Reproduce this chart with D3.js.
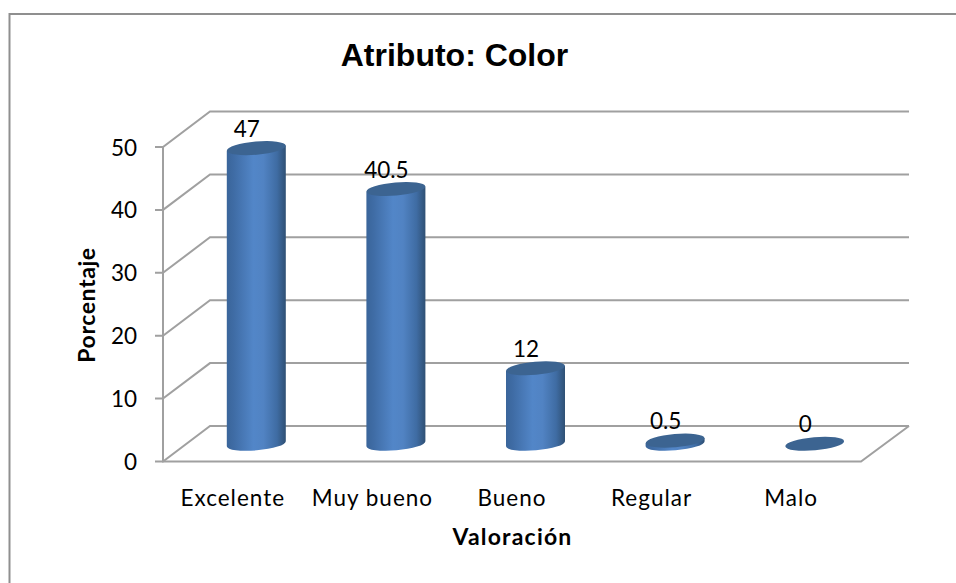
<!DOCTYPE html>
<html><head><meta charset="utf-8">
<script src="https://cdn.jsdelivr.net/npm/d3@7"></script>
<style>html,body{margin:0;padding:0;background:#fff}svg{display:block}</style>
</head><body><div id="chart"></div>
<script>
// Values for the 3D cylinder chart
const categories = ["Excelente", "Muy bueno", "Bueno", "Regular", "Malo"];
const values = [47, 40.5, 12, 0.5, 0];
const valueLabels = ["47", "40.5", "12", "0.5", "0"];
const yTicks = [0, 10, 20, 30, 40, 50];
const chartTitle = "Atributo: Color";
const xTitle = "Valoración";
const yTitle = "Porcentaje";

const W = 956, H = 583;
const svg = d3.select("#chart").append("svg").attr("width", W).attr("height", H);

// Front plane of the plot box, plus the oblique offset to the back wall
const y = d3.scaleLinear().domain([0, 50]).range([461.5, 147]);
const x = d3.scaleBand().domain(categories).range([163, 861]);
const depth = { dx: 47, dy: -35.5 };
const colW = 59;
const rx = colW / 2, ry = 6.6, tilt = -5;
const midY = v => y(v) + depth.dy / 2;
const cx = c => x(c) + x.bandwidth() / 2 + depth.dx / 2;

const FONT = "Lato, 'Open Sans', sans-serif";
const GRID = "#a0a0a0";

// Horizontal cylinder shading
const defs = svg.append("defs");
const grad = defs.append("linearGradient").attr("id", "cyl");
[[0, "#3a659a"], [0.12, "#3f6ca5"], [0.45, "#5286c8"], [0.62, "#5183c3"], [0.85, "#3f6ca3"], [1, "#2f5074"]]
  .forEach(([o, c]) => grad.append("stop").attr("offset", o).attr("stop-color", c));

// Outer frame: only the top and left edges fall inside the view
svg.append("path").attr("d", `M9.5,${H}V14H${W}`).attr("fill", "none")
  .attr("stroke", "#8f8f8f").attr("stroke-width", 2);

// Walls, gridlines and floor
const g = svg.append("g").attr("fill", "none").attr("stroke", GRID).attr("stroke-width", 2);
yTicks.forEach(t => {
  const x0 = x.range()[0], yy = y(t);
  g.append("path").attr("d", `M${x0 - 8},${yy}H${x0}L${x0 + depth.dx},${yy + depth.dy}H${x.range()[1] + depth.dx + 1}`);
});
g.append("path").attr("d", `M${x.range()[0]},${y(50)}V${y(0)}H${x.range()[1]}L${x.range()[1] + depth.dx + 1},${y(0) + depth.dy}`);

// Cylinders
const ell = (sel, c, cyV) => sel.attr("cx", c).attr("cy", cyV).attr("rx", rx).attr("ry", ry)
  .attr("transform", `rotate(${tilt} ${c} ${cyV})`);
const toRad = tilt * Math.PI / 180;

categories.forEach((c, i) => {
  const v = values[i], xc = cx(c), yb = midY(0), yt = midY(v);
  const dy = rx * Math.sin(toRad);
  const col = svg.append("g");
  if (v > 0) {
    col.append("path").attr("fill", "url(#cyl)")
      .attr("d", `M${xc - rx},${yt - dy}L${xc + rx},${yt + dy}L${xc + rx},${yb + dy}` +
        `A${rx},${ry} ${tilt} 0 1 ${xc - rx},${yb - dy}Z`);
  }
  ell(col.append("ellipse"), xc, yt).attr("fill", "#3c6491");
});

// Value labels
svg.append("g").selectAll("text").data(categories).join("text")
  .attr("x", c => cx(c) - 9.5)
  .attr("y", (c, i) => midY(values[i]) - 11.5)
  .attr("text-anchor", "middle").attr("font-family", FONT).attr("font-size", 22.5)
  .attr("fill", "#000").text((c, i) => valueLabels[i]);

// Axis tick labels
svg.append("g").selectAll("text").data(yTicks).join("text")
  .attr("x", 137).attr("y", d => y(d) + 8.5).attr("text-anchor", "end")
  .attr("font-family", FONT).attr("font-size", 22.5).attr("fill", "#000").text(d => d);
svg.append("g").selectAll("text").data(categories).join("text")
  .attr("x", c => x(c) + x.bandwidth() / 2).attr("y", 506).attr("text-anchor", "middle")
  .attr("font-family", FONT).attr("font-size", 22.5).attr("letter-spacing", 1).attr("fill", "#000").text(c => c);

// Titles
svg.append("text").attr("x", 454.5).attr("y", 66).attr("text-anchor", "middle")
  .attr("font-family", "'Liberation Sans', Arial, sans-serif").attr("font-weight", 700)
  .attr("font-size", 32).attr("fill", "#000").text(chartTitle);
svg.append("text").attr("x", 512.5).attr("y", 545).attr("text-anchor", "middle")
  .attr("font-family", FONT).attr("font-weight", 700).attr("font-size", 23).attr("letter-spacing", 1.2).attr("fill", "#000").text(xTitle);
svg.append("text").attr("transform", "translate(95,305) rotate(-90)").attr("text-anchor", "middle")
  .attr("font-family", FONT).attr("font-weight", 700).attr("font-size", 23).attr("letter-spacing", 0.6).attr("fill", "#000").text(yTitle);
</script></body></html>
